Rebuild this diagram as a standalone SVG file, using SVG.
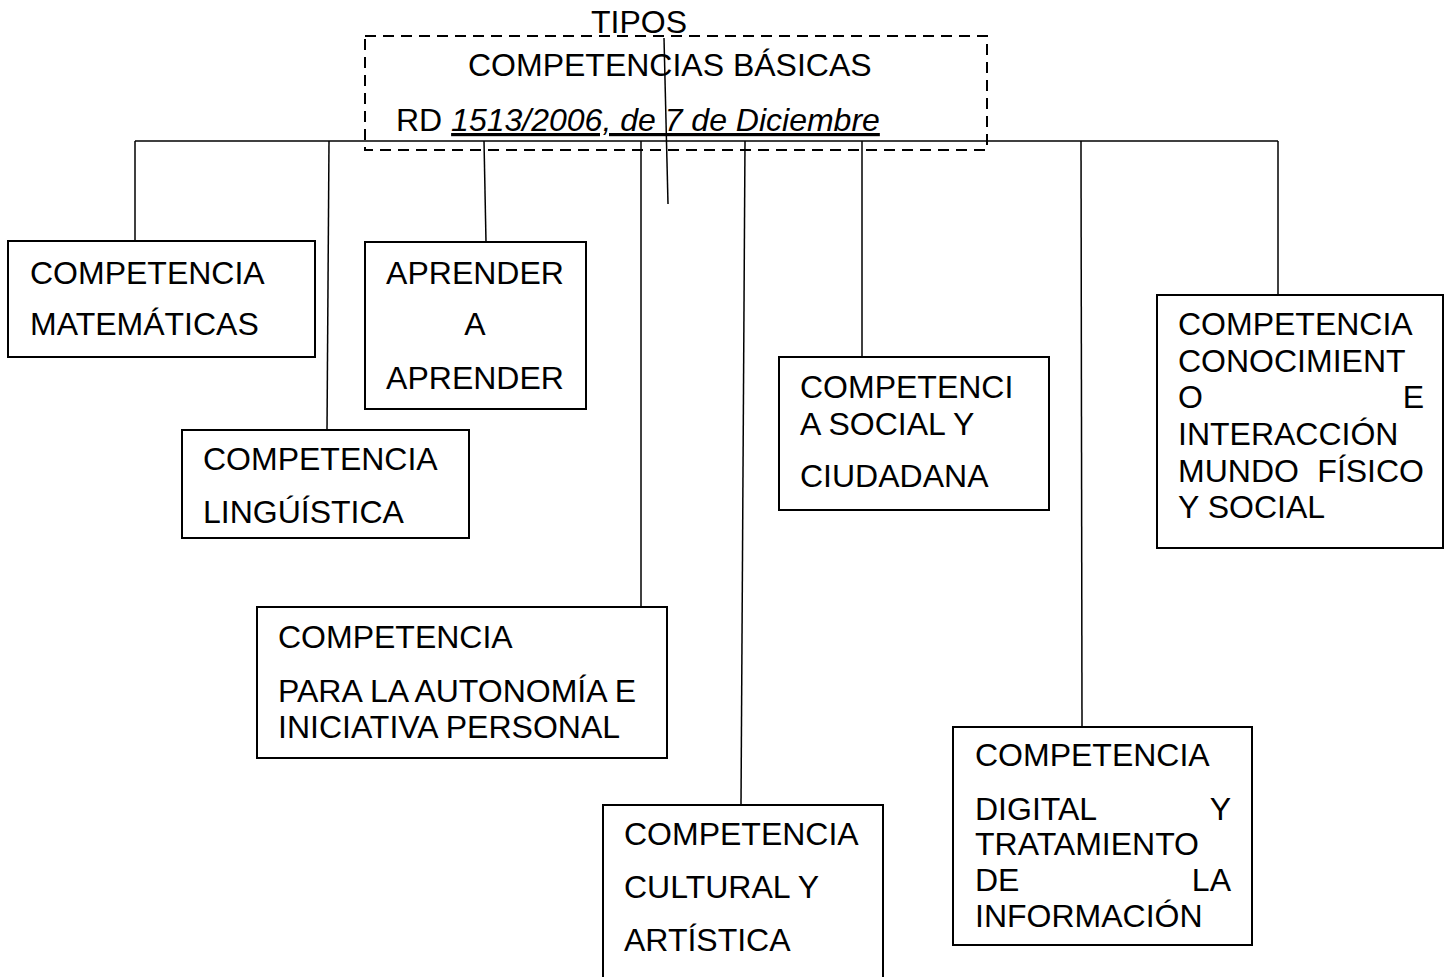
<svg xmlns="http://www.w3.org/2000/svg" width="1444" height="977" viewBox="0 0 1444 977">
<style>
text{font-family:"Liberation Sans",Arial,sans-serif;font-size:32px;fill:#000}
.box{fill:#fff;stroke:#000;stroke-width:2}
.dash{fill:none;stroke:#000;stroke-width:2;stroke-dasharray:11 7}
.con{stroke:#000;stroke-width:1.5;fill:none}
.end{text-anchor:end}
</style>
<rect width="1444" height="977" fill="#fff"/>
<g id="root">
<rect class="dash" x="365" y="36" width="622" height="114"/>
<text x="468" y="76">COMPETENCIAS BÁSICAS</text>
<text x="396" y="131">RD <tspan font-style="italic" text-decoration="underline">1513/2006, de 7 de Diciembre</tspan></text>
</g>
<g id="tipos">
<text x="591" y="33">TIPOS</text>
</g>
<g id="connectors">
<line class="con" x1="135" y1="141" x2="1278" y2="141" stroke-width="2"/>
<line class="con" x1="135" y1="141" x2="135" y2="241"/>
<line class="con" x1="329" y1="141" x2="327" y2="430"/>
<line class="con" x1="484" y1="141" x2="486" y2="242"/>
<line class="con" x1="641" y1="141" x2="641" y2="607"/>
<line class="con" x1="745" y1="141" x2="741" y2="805"/>
<line class="con" x1="862" y1="141" x2="862" y2="357"/>
<line class="con" x1="1081" y1="141" x2="1082" y2="727"/>
<line class="con" x1="1278" y1="141" x2="1278" y2="295"/>
<line class="con" x1="664" y1="38" x2="668" y2="204"/>
</g>
<g id="matematicas">
<rect class="box" x="8" y="241" width="307" height="116"/>
<text x="30" y="284">COMPETENCIA</text>
<text x="30" y="335">MATEMÁTICAS</text>
</g>
<g id="aprender">
<rect class="box" x="365" y="242" width="221" height="167"/>
<text x="475" y="284" text-anchor="middle">APRENDER</text>
<text x="475" y="335" text-anchor="middle">A</text>
<text x="475" y="389" text-anchor="middle">APRENDER</text>
</g>
<g id="linguistica">
<rect class="box" x="182" y="430" width="287" height="108"/>
<text x="203" y="470">COMPETENCIA</text>
<text x="203" y="523">LINGÚÍSTICA</text>
</g>
<g id="social">
<rect class="box" x="779" y="357" width="270" height="153"/>
<text x="800" y="398">COMPETENCI</text>
<text x="800" y="435">A SOCIAL Y</text>
<text x="800" y="487">CIUDADANA</text>
</g>
<g id="conocimiento">
<rect class="box" x="1157" y="295" width="286" height="253"/>
<text x="1178" y="335">COMPETENCIA</text>
<text x="1178" y="372">CONOCIMIENT</text>
<text x="1178" y="408">O</text>
<text x="1424" y="408" class="end">E</text>
<text x="1178" y="445">INTERACCIÓN</text>
<text x="1178" y="482">MUNDO</text>
<text x="1424" y="482" class="end">FÍSICO</text>
<text x="1178" y="518">Y SOCIAL</text>
</g>
<g id="autonomia">
<rect class="box" x="257" y="607" width="410" height="151"/>
<text x="278" y="648">COMPETENCIA</text>
<text x="278" y="702">PARA LA AUTONOMÍA E</text>
<text x="278" y="738">INICIATIVA PERSONAL</text>
</g>
<g id="cultural">
<rect class="box" x="603" y="805" width="280" height="190"/>
<text x="624" y="845">COMPETENCIA</text>
<text x="624" y="898">CULTURAL Y</text>
<text x="624" y="951">ARTÍSTICA</text>
</g>
<g id="digital">
<rect class="box" x="953" y="727" width="299" height="218"/>
<text x="975" y="766">COMPETENCIA</text>
<text x="975" y="820">DIGITAL</text>
<text x="1231" y="820" class="end">Y</text>
<text x="975" y="855">TRATAMIENTO</text>
<text x="975" y="891">DE</text>
<text x="1231" y="891" class="end">LA</text>
<text x="975" y="927">INFORMACIÓN</text>
</g>
</svg>
